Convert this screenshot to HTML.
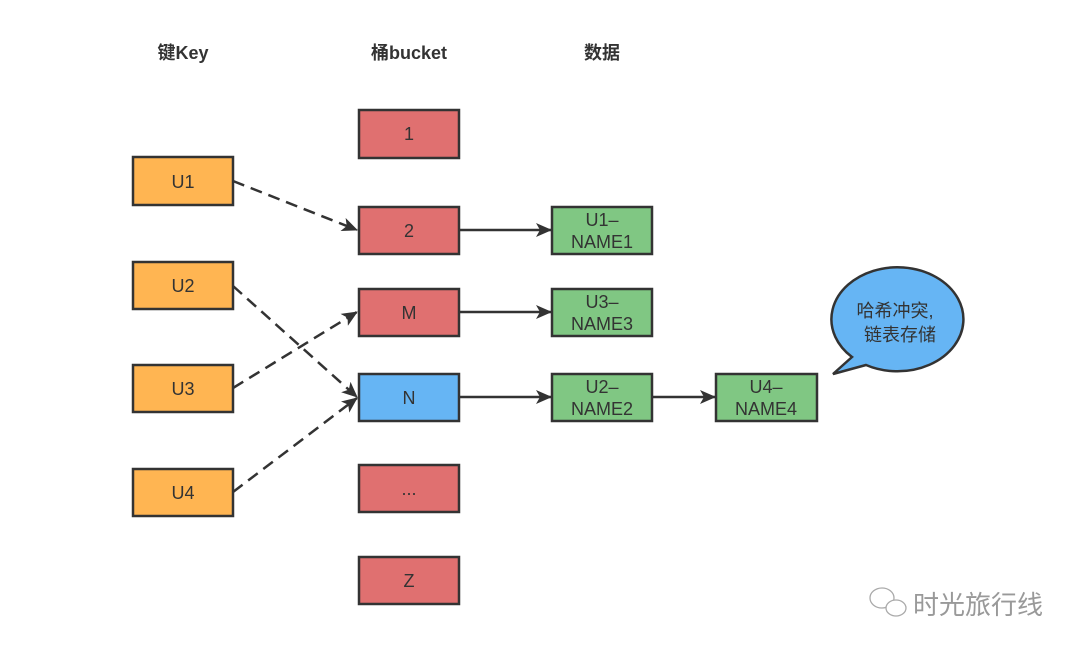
<!DOCTYPE html>
<html><head><meta charset="utf-8"><style>
body{margin:0;background:#fff;}
svg text{font-family:"Liberation Sans","Noto Sans CJK SC",sans-serif;fill:#333;}
</style></head><body>
<svg width="1080" height="652" viewBox="0 0 1080 652" xmlns="http://www.w3.org/2000/svg">
<defs><marker id="a" markerWidth="16" markerHeight="14" refX="15" refY="7" orient="auto" markerUnits="userSpaceOnUse"><path d="M0,0 L16,7 L0,14 L4,7z" fill="#333"/></marker></defs>
<g font-size="18" font-weight="bold" text-anchor="middle">
<text x="183" y="59">键Key</text><text x="409" y="59">桶bucket</text><text x="602" y="59">数据</text></g>
<g stroke="#333" stroke-width="2.5">
<rect x="133" y="157" width="100" height="48" fill="#FFB552"/>
<rect x="133" y="262" width="100" height="47" fill="#FFB552"/>
<rect x="133" y="365" width="100" height="47" fill="#FFB552"/>
<rect x="133" y="469" width="100" height="47" fill="#FFB552"/>
<rect x="359" y="110" width="100" height="48" fill="#E07070"/>
<rect x="359" y="207" width="100" height="47" fill="#E07070"/>
<rect x="359" y="289" width="100" height="47" fill="#E07070"/>
<rect x="359" y="374" width="100" height="47" fill="#66B5F4"/>
<rect x="359" y="465" width="100" height="47" fill="#E07070"/>
<rect x="359" y="557" width="100" height="47" fill="#E07070"/>
<rect x="552" y="207" width="100" height="47" fill="#80C783"/>
<rect x="552" y="289" width="100" height="47" fill="#80C783"/>
<rect x="552" y="374" width="100" height="47" fill="#80C783"/>
<rect x="716" y="374" width="101" height="47" fill="#80C783"/>
<path d="M833,374 L866,365 A66,52 0 1 0 852,357 Z" fill="#66B5F4"/>
</g>
<g stroke="#333" stroke-width="2.5" fill="none" marker-end="url(#a)">
<g stroke-dasharray="12,7">
<line x1="233" y1="181" x2="357" y2="230"/>
<line x1="233" y1="286" x2="357" y2="397"/>
<line x1="233" y1="388" x2="357" y2="312"/>
<line x1="233" y1="492" x2="357" y2="398"/>
</g>
<line x1="459" y1="230" x2="551" y2="230"/>
<line x1="459" y1="312" x2="551" y2="312"/>
<line x1="459" y1="397" x2="551" y2="397"/>
<line x1="652" y1="397" x2="715" y2="397"/>
</g>
<g font-size="18" text-anchor="middle">
<text x="183" y="188">U1</text><text x="183" y="292">U2</text><text x="183" y="395">U3</text><text x="183" y="499">U4</text>
<text x="409" y="140">1</text><text x="409" y="237">2</text><text x="409" y="319">M</text><text x="409" y="404">N</text><text x="409" y="495">...</text><text x="409" y="587">Z</text>
<text x="602" y="226">U1–</text><text x="602" y="248">NAME1</text>
<text x="602" y="308">U3–</text><text x="602" y="330">NAME3</text>
<text x="602" y="393">U2–</text><text x="602" y="415">NAME2</text>
<text x="766" y="393">U4–</text><text x="766" y="415">NAME4</text>
<text x="895" y="317">哈希冲突,</text><text x="900" y="341">链表存储</text>
</g>
<g fill="none" stroke="#aaa" stroke-width="1.3">
<ellipse cx="882" cy="598" rx="12" ry="10"/><ellipse cx="896" cy="608" rx="10" ry="8" fill="#fff"/>
</g>
<text x="913" y="614" font-size="26" style="fill:#999">时光旅行线</text>
</svg>
</body></html>
